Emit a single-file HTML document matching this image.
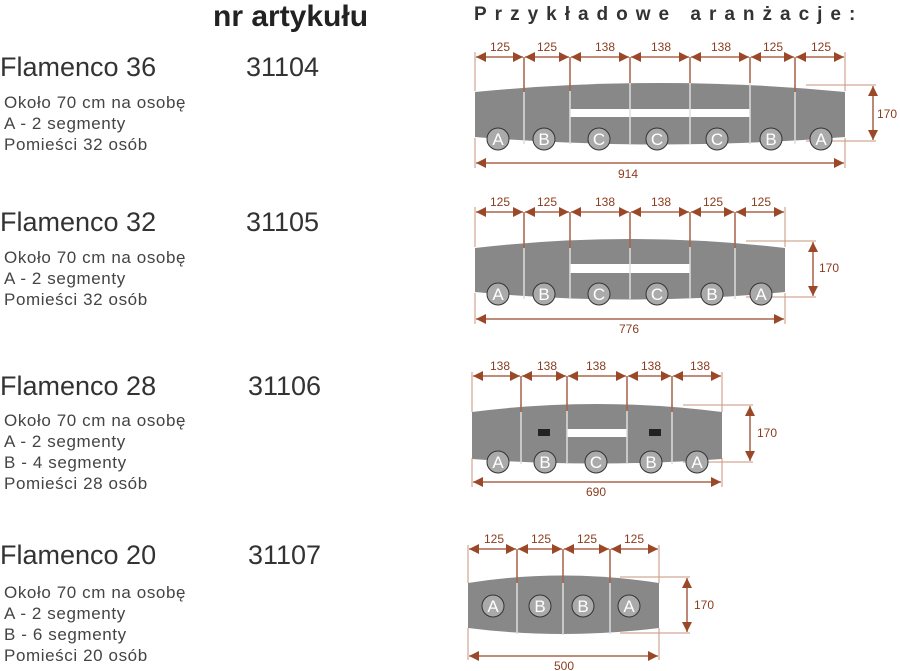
<!DOCTYPE html>
<html><head><meta charset="utf-8"><style>
body{margin:0;background:#fff;width:900px;height:671px;overflow:hidden}
svg{display:block}
.h{font-family:"Liberation Sans",sans-serif;font-size:27px;fill:#333}
.s{font-family:"Liberation Sans",sans-serif;font-size:17px;fill:#444;letter-spacing:0.6px}
.d{font-family:"Liberation Sans",sans-serif;font-size:12px;fill:#8a3c1e;text-anchor:middle}
.dl{stroke:#9a4828;stroke-width:1.3;fill:none}
.el{stroke:#c9957c;stroke-width:1;fill:none}
.tb{fill:#888}
.dv{stroke:#ddd;stroke-width:1.5}
.c{fill:#aaa;stroke:#333;stroke-width:1}
.cl{font-family:"Liberation Sans",sans-serif;font-size:17px;fill:#fff;text-anchor:middle}
</style></head><body>
<svg width="900" height="671" viewBox="0 0 900 671">
<defs>
<marker id="a" viewBox="0 0 10 10" refX="10" refY="5" markerWidth="10" markerHeight="10" markerUnits="userSpaceOnUse" orient="auto-start-reverse"><path d="M0,0L10,5L0,10z" fill="#9a4828"/></marker>
</defs>
<text x="213" y="26" style="font-family:'Liberation Sans',sans-serif;font-size:30px;font-weight:bold;fill:#222">nr artykułu</text>
<text x="474" y="20" style="font-family:'Liberation Sans',sans-serif;font-size:19px;font-weight:bold;fill:#333;letter-spacing:8px">Przykładowe  aranżacje:</text>

<text class="h" x="0" y="76">Flamenco 36</text><text class="h" x="246" y="76">31104</text>
<text class="s" x="4" y="108">Około 70 cm na osobę</text><text class="s" x="4" y="129">A - 2 segmenty</text><text class="s" x="4" y="150">Pomieści 32 osób</text>

<text class="h" x="0" y="231">Flamenco 32</text><text class="h" x="246" y="231">31105</text>
<text class="s" x="4" y="263">Około 70 cm na osobę</text><text class="s" x="4" y="284">A - 2 segmenty</text><text class="s" x="4" y="305">Pomieści 32 osób</text>

<text class="h" x="0" y="395">Flamenco 28</text><text class="h" x="248" y="395">31106</text>
<text class="s" x="4" y="426">Około 70 cm na osobę</text><text class="s" x="4" y="447">A - 2 segmenty</text><text class="s" x="4" y="468">B - 4 segmenty</text><text class="s" x="4" y="489">Pomieści  28 osób</text>

<text class="h" x="0" y="564">Flamenco 20</text><text class="h" x="248" y="564">31107</text>
<text class="s" x="4" y="598">Około 70 cm na osobę</text><text class="s" x="4" y="619">A - 2 segmenty</text><text class="s" x="4" y="640">B - 6 segmenty</text><text class="s" x="4" y="661">Pomieści 20 osób</text>

<!-- Table 1 -->
<path class="tb" d="M475,92Q660,74 845,92L845,137Q660,152 475,137Z"/>
<rect x="570" y="109" width="180" height="8" fill="#fff"/>
<g class="dv"><line x1="524" y1="85" x2="524" y2="144"/><line x1="570" y1="83" x2="570" y2="144"/><line x1="630" y1="83" x2="630" y2="144"/><line x1="690" y1="83" x2="690" y2="144"/><line x1="750" y1="83" x2="750" y2="144"/><line x1="795" y1="85" x2="795" y2="144"/></g>
<g class="dl"><line x1="524" y1="57" x2="524" y2="92"/><line x1="570" y1="57" x2="570" y2="91"/><line x1="630" y1="57" x2="630" y2="83"/><line x1="690" y1="57" x2="690" y2="83"/><line x1="750" y1="57" x2="750" y2="83"/><line x1="795" y1="57" x2="795" y2="92"/></g>
<g class="el"><line x1="475" y1="52" x2="475" y2="91"/><line x1="845" y1="52" x2="845" y2="91"/><line x1="475" y1="138" x2="475" y2="168"/><line x1="845" y1="138" x2="845" y2="168"/><line x1="806" y1="85" x2="876" y2="85"/><line x1="806" y1="141" x2="876" y2="141"/></g>
<g class="dl">
<line x1="476" y1="57" x2="523" y2="57" marker-start="url(#a)" marker-end="url(#a)"/><line x1="525" y1="57" x2="569" y2="57" marker-start="url(#a)" marker-end="url(#a)"/><line x1="571" y1="57" x2="629" y2="57" marker-start="url(#a)" marker-end="url(#a)"/><line x1="631" y1="57" x2="689" y2="57" marker-start="url(#a)" marker-end="url(#a)"/><line x1="691" y1="57" x2="749" y2="57" marker-start="url(#a)" marker-end="url(#a)"/><line x1="751" y1="57" x2="794" y2="57" marker-start="url(#a)" marker-end="url(#a)"/><line x1="796" y1="57" x2="844" y2="57" marker-start="url(#a)" marker-end="url(#a)"/>
<line x1="476" y1="163" x2="844" y2="163" marker-start="url(#a)" marker-end="url(#a)"/><line x1="873" y1="86" x2="873" y2="140" marker-start="url(#a)" marker-end="url(#a)"/></g>
<g class="d"><text x="500" y="51">125</text><text x="547" y="51">125</text><text x="605" y="51">138</text><text x="661" y="51">138</text><text x="721" y="51">138</text><text x="773" y="51">125</text><text x="821" y="51">125</text><text x="628" y="178">914</text><text x="887" y="118">170</text></g>
<circle class="c" cx="498" cy="139" r="11"/><circle class="c" cx="544" cy="139" r="11"/><circle class="c" cx="599" cy="139" r="11"/><circle class="c" cx="657" cy="139" r="11"/><circle class="c" cx="717" cy="139" r="11"/><circle class="c" cx="771" cy="139" r="11"/><circle class="c" cx="821" cy="139" r="11"/>
<g class="cl"><text x="498" y="145">A</text><text x="544" y="145">B</text><text x="599" y="145">C</text><text x="657" y="145">C</text><text x="717" y="145">C</text><text x="771" y="145">B</text><text x="821" y="145">A</text></g>

<!-- Table 2 -->
<path class="tb" d="M475,248Q630,230 785,248L785,292Q630,307 475,292Z"/>
<rect x="570" y="264" width="120" height="9" fill="#fff"/>
<g class="dv"><line x1="524" y1="240" x2="524" y2="299"/><line x1="570" y1="239" x2="570" y2="299"/><line x1="630" y1="239" x2="630" y2="299"/><line x1="690" y1="239" x2="690" y2="299"/><line x1="735" y1="240" x2="735" y2="299"/></g>
<g class="dl"><line x1="524" y1="212" x2="524" y2="248"/><line x1="570" y1="212" x2="570" y2="248"/><line x1="630" y1="212" x2="630" y2="248"/><line x1="690" y1="212" x2="690" y2="247"/><line x1="735" y1="212" x2="735" y2="248"/></g>
<g class="el"><line x1="475" y1="207" x2="475" y2="247"/><line x1="785" y1="207" x2="785" y2="247"/><line x1="475" y1="293" x2="475" y2="324"/><line x1="785" y1="293" x2="785" y2="324"/><line x1="746" y1="241" x2="816" y2="241"/><line x1="746" y1="297" x2="816" y2="297"/></g>
<g class="dl"><line x1="476" y1="212" x2="523" y2="212" marker-start="url(#a)" marker-end="url(#a)"/><line x1="525" y1="212" x2="569" y2="212" marker-start="url(#a)" marker-end="url(#a)"/><line x1="571" y1="212" x2="629" y2="212" marker-start="url(#a)" marker-end="url(#a)"/><line x1="631" y1="212" x2="689" y2="212" marker-start="url(#a)" marker-end="url(#a)"/><line x1="691" y1="212" x2="734" y2="212" marker-start="url(#a)" marker-end="url(#a)"/><line x1="736" y1="212" x2="784" y2="212" marker-start="url(#a)" marker-end="url(#a)"/>
<line x1="476" y1="319" x2="784" y2="319" marker-start="url(#a)" marker-end="url(#a)"/><line x1="813" y1="242" x2="813" y2="296" marker-start="url(#a)" marker-end="url(#a)"/></g>
<g class="d"><text x="500" y="206">125</text><text x="547" y="206">125</text><text x="605" y="206">138</text><text x="661" y="206">138</text><text x="713" y="206">125</text><text x="761" y="206">125</text><text x="629" y="333">776</text><text x="829" y="272">170</text></g>
<circle class="c" cx="498" cy="294" r="11"/><circle class="c" cx="544" cy="294" r="11"/><circle class="c" cx="599" cy="294" r="11"/><circle class="c" cx="657" cy="294" r="11"/><circle class="c" cx="712" cy="294" r="11"/><circle class="c" cx="761" cy="294" r="11"/>
<g class="cl"><text x="498" y="300">A</text><text x="544" y="300">B</text><text x="599" y="300">C</text><text x="657" y="300">C</text><text x="712" y="300">B</text><text x="761" y="300">A</text></g>

<!-- Table 3 -->
<path class="tb" d="M472,412Q597,396 722,412L722,459Q597,468 472,459Z"/>
<rect x="567" y="429" width="60" height="8" fill="#fff"/>
<rect x="538" y="429" width="12" height="7" fill="#222"/><rect x="649" y="429" width="12" height="7" fill="#222"/>
<g class="dv"><line x1="521" y1="404" x2="521" y2="464"/><line x1="567" y1="403" x2="567" y2="464"/><line x1="627" y1="403" x2="627" y2="464"/><line x1="672" y1="404" x2="672" y2="464"/></g>
<g class="dl"><line x1="521" y1="376" x2="521" y2="412"/><line x1="567" y1="376" x2="567" y2="411"/><line x1="627" y1="376" x2="627" y2="411"/><line x1="672" y1="376" x2="672" y2="412"/></g>
<g class="el"><line x1="472" y1="372" x2="472" y2="412"/><line x1="722" y1="372" x2="722" y2="412"/><line x1="472" y1="458" x2="472" y2="487"/><line x1="722" y1="458" x2="722" y2="487"/><line x1="683" y1="405" x2="753" y2="405"/><line x1="683" y1="462" x2="753" y2="462"/></g>
<g class="dl"><line x1="473" y1="376" x2="520" y2="376" marker-start="url(#a)" marker-end="url(#a)"/><line x1="522" y1="376" x2="566" y2="376" marker-start="url(#a)" marker-end="url(#a)"/><line x1="568" y1="376" x2="626" y2="376" marker-start="url(#a)" marker-end="url(#a)"/><line x1="628" y1="376" x2="671" y2="376" marker-start="url(#a)" marker-end="url(#a)"/><line x1="673" y1="376" x2="721" y2="376" marker-start="url(#a)" marker-end="url(#a)"/>
<line x1="473" y1="482" x2="721" y2="482" marker-start="url(#a)" marker-end="url(#a)"/><line x1="750" y1="406" x2="750" y2="461" marker-start="url(#a)" marker-end="url(#a)"/></g>
<g class="d"><text x="500" y="370">138</text><text x="547" y="370">138</text><text x="596" y="370">138</text><text x="651" y="370">138</text><text x="700" y="370">138</text><text x="596" y="496">690</text><text x="767" y="437">170</text></g>
<circle class="c" cx="498" cy="462" r="11"/><circle class="c" cx="545" cy="462" r="11"/><circle class="c" cx="596" cy="462" r="11"/><circle class="c" cx="651" cy="462" r="11"/><circle class="c" cx="697" cy="462" r="11"/>
<g class="cl"><text x="498" y="468">A</text><text x="545" y="468">B</text><text x="596" y="468">C</text><text x="651" y="468">B</text><text x="697" y="468">A</text></g>

<!-- Table 4 -->
<path class="tb" d="M468,583Q563,568 659,583L659,628Q563,640 468,628Z"/>
<g class="dv"><line x1="517" y1="576" x2="517" y2="634"/><line x1="563" y1="575" x2="563" y2="635"/><line x1="610" y1="576" x2="610" y2="634"/></g>
<g class="dl"><line x1="517" y1="549" x2="517" y2="583"/><line x1="563" y1="549" x2="563" y2="583"/><line x1="610" y1="549" x2="610" y2="583"/></g>
<g class="el"><line x1="468" y1="545" x2="468" y2="583"/><line x1="659" y1="545" x2="659" y2="583"/><line x1="468" y1="628" x2="468" y2="660"/><line x1="659" y1="628" x2="659" y2="660"/><line x1="620" y1="577" x2="690" y2="577"/><line x1="620" y1="633" x2="690" y2="633"/></g>
<g class="dl"><line x1="469" y1="549" x2="516" y2="549" marker-start="url(#a)" marker-end="url(#a)"/><line x1="518" y1="549" x2="562" y2="549" marker-start="url(#a)" marker-end="url(#a)"/><line x1="564" y1="549" x2="609" y2="549" marker-start="url(#a)" marker-end="url(#a)"/><line x1="611" y1="549" x2="658" y2="549" marker-start="url(#a)" marker-end="url(#a)"/>
<line x1="469" y1="656" x2="658" y2="656" marker-start="url(#a)" marker-end="url(#a)"/><line x1="687" y1="578" x2="687" y2="632" marker-start="url(#a)" marker-end="url(#a)"/></g>
<g class="d"><text x="494" y="543">125</text><text x="541" y="543">125</text><text x="587" y="543">125</text><text x="634" y="543">125</text><text x="564" y="670">500</text><text x="704" y="609">170</text></g>
<circle class="c" cx="493" cy="606" r="11"/><circle class="c" cx="540" cy="606" r="11"/><circle class="c" cx="583" cy="606" r="11"/><circle class="c" cx="629" cy="606" r="11"/>
<g class="cl"><text x="493" y="612">A</text><text x="540" y="612">B</text><text x="583" y="612">B</text><text x="629" y="612">A</text></g>
</svg>
</body></html>
